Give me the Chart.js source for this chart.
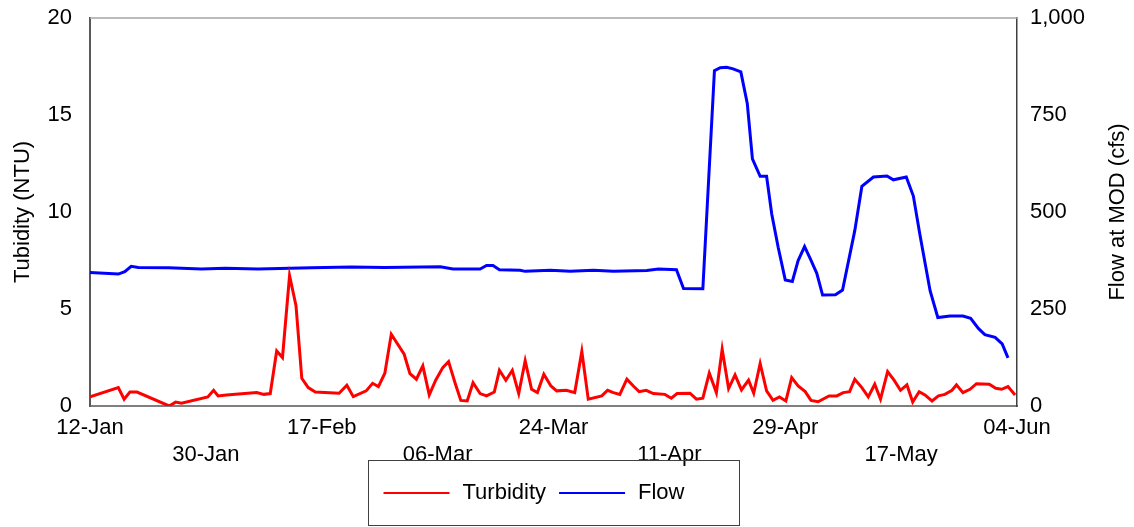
<!DOCTYPE html>
<html><head><meta charset="utf-8">
<script src="https://cdn.jsdelivr.net/npm/chart.js@4.4.0/dist/chart.umd.min.js"></script>
<style>html,body{margin:0;padding:0;background:#fff;} #wrap{width:1134px;height:527px;position:relative;}</style>
</head><body><div id="wrap"><canvas id="c"></canvas></div>
<script>
// x values are days since 12-Jan
const tickDays = [0, 18, 36, 54, 72, 90, 108, 126, 144];
const tickLabels = ['12-Jan', '30-Jan', '17-Feb', '06-Mar', '24-Mar', '11-Apr', '29-Apr', '17-May', '04-Jun'];
const seriesNames = ['Turbidity', 'Flow'];
const axisTitles = ['Tubidity (NTU)', 'Flow at MOD (cfs)'];

const turbidityDays = [0, 4.4, 5.3, 6.2, 7.3, 12.3, 13.3, 14.2, 18.3, 19.2, 19.9, 21.2, 25.9, 27.0, 28.0, 29.0, 29.9, 31.0, 32.0, 32.9,
  33.9, 35.0, 38.7, 39.9, 40.9, 42.9, 43.9, 44.8, 45.8, 46.8, 48.8, 49.7, 50.7, 51.7, 52.7, 53.7, 54.8, 55.7, 56.7, 57.6,
  58.6, 59.5, 60.6, 61.6, 62.8, 63.6, 64.6, 65.6, 66.6, 67.6, 68.6, 69.5, 70.5, 71.6, 72.5, 74.0, 75.3, 76.4, 77.4, 79.5,
  80.4, 81.3, 82.3, 83.4, 84.4, 85.3, 86.4, 87.5, 89.3, 90.3, 91.2, 93.2, 94.2, 95.2, 96.2, 97.3, 98.2, 99.2, 100.2, 101.2,
  102.3, 103.1, 104.1, 105.1, 106.1, 107.1, 108.1, 109.0, 110.0, 111.1, 112.0, 113.1, 114.8, 116.0, 117.0, 118.0, 118.8, 119.9, 120.9, 121.9,
  122.8, 123.9, 124.9, 125.9, 126.9, 127.8, 128.8, 129.7, 130.8, 131.8, 132.8, 133.9, 134.6, 135.6, 136.7, 137.7, 139.7, 140.7, 141.6, 142.6, 143.7];
const turbidityValues = [0.47, 0.95, 0.35, 0.72, 0.72, 0.0, 0.2, 0.14, 0.47, 0.81, 0.52, 0.57, 0.69, 0.6, 0.64, 2.84, 2.5, 6.72, 5.17, 1.43,
  0.95, 0.72, 0.66, 1.07, 0.48, 0.78, 1.17, 1.0, 1.69, 3.7, 2.67, 1.67, 1.38, 2.07, 0.57, 1.33, 1.98, 2.29, 1.2, 0.29,
  0.26, 1.2, 0.64, 0.52, 0.72, 1.84, 1.33, 1.84, 0.64, 2.33, 0.86, 0.69, 1.64, 1.03, 0.78, 0.81, 0.69, 2.81, 0.35, 0.52,
  0.81, 0.69, 0.6, 1.38, 1.03, 0.74, 0.81, 0.64, 0.6, 0.4, 0.64, 0.66, 0.35, 0.4, 1.7, 0.69, 2.93, 0.9, 1.6, 0.83,
  1.33, 0.66, 2.19, 0.78, 0.29, 0.47, 0.26, 1.46, 1.03, 0.74, 0.29, 0.22, 0.52, 0.52, 0.69, 0.74, 1.38, 0.95, 0.47, 1.12,
  0.35, 1.77, 1.33, 0.81, 1.09, 0.21, 0.74, 0.57, 0.26, 0.52, 0.6, 0.81, 1.09, 0.69, 0.86, 1.15, 1.12, 0.91, 0.86, 1.0, 0.57];

const flowDays = [0, 4.4, 5.4, 6.4, 7.5, 12.2, 17.3, 21.0, 26.1, 34.4, 40.6, 45.8, 54.4, 56.4, 60.6, 61.6, 62.6, 63.6, 66.8, 67.6,
  71.5, 74.6, 78.2, 81.3, 86.5, 88.3, 91.1, 92.2, 95.2, 97.0, 97.9, 98.9, 99.9, 101.1, 102.1, 102.9, 104.1, 105.1, 105.9, 106.9,
  108.0, 109.1, 110.0, 111.0, 111.9, 112.9, 113.8, 115.8, 116.9, 118.8, 119.9, 121.7, 123.8, 124.8, 126.8, 127.9, 128.9, 130.5, 131.7, 133.6,
  135.6, 136.8, 138.0, 139.0, 140.6, 141.7, 142.6];
const flowValues = [344, 340, 346, 360, 357, 356, 353, 355, 353, 356, 358, 357, 359, 353, 353, 362, 362, 351, 350, 347,
  350, 347, 350, 347, 349, 353, 351, 303, 302, 864, 872, 873, 869, 861, 780, 637, 592, 592, 495, 409,
  325, 321, 375, 411, 379, 342, 286, 287, 299, 452, 566, 590, 593, 583, 590, 541, 443, 297, 228, 232,
  232, 226, 200, 184, 177, 160, 124];

const FONT = "'Liberation Sans', Arial, sans-serif";
const seriesColors = ['#ff0000', '#0000ff'];

const extras = {
  id: 'extras',
  afterDraw(chart) {
    const ctx = chart.ctx, a = chart.chartArea;
    ctx.save();
    // top frame line
    ctx.strokeStyle = '#a6a6a6'; ctx.lineWidth = 1.5;
    ctx.beginPath(); ctx.moveTo(a.left, a.top); ctx.lineTo(a.right, a.top); ctx.stroke();
    // right axis title (reads bottom-to-top)
    ctx.fillStyle = '#000';
    ctx.font = '22px ' + FONT;
    ctx.textAlign = 'center'; ctx.textBaseline = 'middle';
    ctx.translate(a.right + 101, (a.top + a.bottom) / 2);
    ctx.rotate(-Math.PI / 2);
    ctx.fillText(axisTitles[1], 0, 0);
    ctx.restore();

    // legend box
    ctx.save();
    const bw = 371, bh = 65;
    const bx = Math.round((a.left + a.right) / 2 - bw / 2) + 0.5;
    const by = Math.round(a.bottom) + 54.5;
    ctx.strokeStyle = '#404040'; ctx.lineWidth = 1;
    ctx.strokeRect(bx, by, bw, bh);
    ctx.font = '22px ' + FONT;
    ctx.textAlign = 'left'; ctx.textBaseline = 'middle';
    const cy = by + 32.5;
    let x = bx + 15;
    chart.data.datasets.forEach((ds) => {
      ctx.strokeStyle = ds.borderColor; ctx.lineWidth = 2;
      ctx.beginPath(); ctx.moveTo(x, cy); ctx.lineTo(x + 66, cy); ctx.stroke();
      x += 66 + 13;
      ctx.fillStyle = '#000';
      ctx.fillText(ds.label, x, cy);
      x += ctx.measureText(ds.label).width + 13;
    });
    ctx.restore();
  }
};

new Chart(document.getElementById('c'), {
  type: 'line',
  data: {
    datasets: [
      {
        label: seriesNames[0],
        data: turbidityDays.map((d, i) => ({ x: d, y: turbidityValues[i] })),
        borderColor: seriesColors[0], backgroundColor: seriesColors[0],
        borderWidth: 3, pointRadius: 0, tension: 0, yAxisID: 'y'
      },
      {
        label: seriesNames[1],
        data: flowDays.map((d, i) => ({ x: d, y: flowValues[i] })),
        borderColor: seriesColors[1], backgroundColor: seriesColors[1],
        borderWidth: 3, pointRadius: 0, tension: 0, yAxisID: 'y2'
      }
    ]
  },
  options: {
    responsive: true, maintainAspectRatio: false, animation: false, devicePixelRatio: 1,
    layout: { padding: { top: 18, left: 0, right: 0, bottom: 0 } },
    plugins: { legend: { display: false }, tooltip: { enabled: false } },
    scales: {
      x: {
        type: 'linear', min: 0, max: 144,
        grid: { display: false },
        border: { display: true, color: '#7f7f7f', width: 2 },
        afterBuildTicks: (s) => { s.ticks = tickDays.map(v => ({ value: v })); },
        afterFit: (s) => { s.height = 121; s.paddingLeft = 0; s.paddingRight = 0; },
        ticks: {
          autoSkip: false, maxRotation: 0, minRotation: 0, padding: 0, color: '#000',
          font: { family: FONT, size: 22, lineHeight: 1.23 },
          callback: (v) => {
            const i = tickDays.indexOf(v);
            return i % 2 === 0 ? tickLabels[i] : ['', tickLabels[i]];
          }
        }
      },
      y: {
        position: 'left', min: 0, max: 20,
        grid: { display: false },
        border: { display: true, color: '#595959', width: 2 },
        afterFit: (s) => { s.width = 90; s.paddingTop = 0; s.paddingBottom = 0; },
        ticks: { stepSize: 5, padding: 10, color: '#000', font: { family: FONT, size: 22 } },
        title: { display: true, text: axisTitles[0], color: '#000', font: { family: FONT, size: 22 }, padding: { top: 10, bottom: 0 } }
      },
      y2: {
        position: 'right', min: 0, max: 1000,
        grid: { display: false },
        border: { display: true, color: '#404040', width: 1.5 },
        afterFit: (s) => { s.width = 117; s.paddingTop = 0; s.paddingBottom = 0; },
        ticks: { stepSize: 250, padding: 5, color: '#000', font: { family: FONT, size: 22 },
          callback: (v) => v.toLocaleString('en-US') }
      }
    }
  },
  plugins: [extras]
});
</script>
</body></html>
